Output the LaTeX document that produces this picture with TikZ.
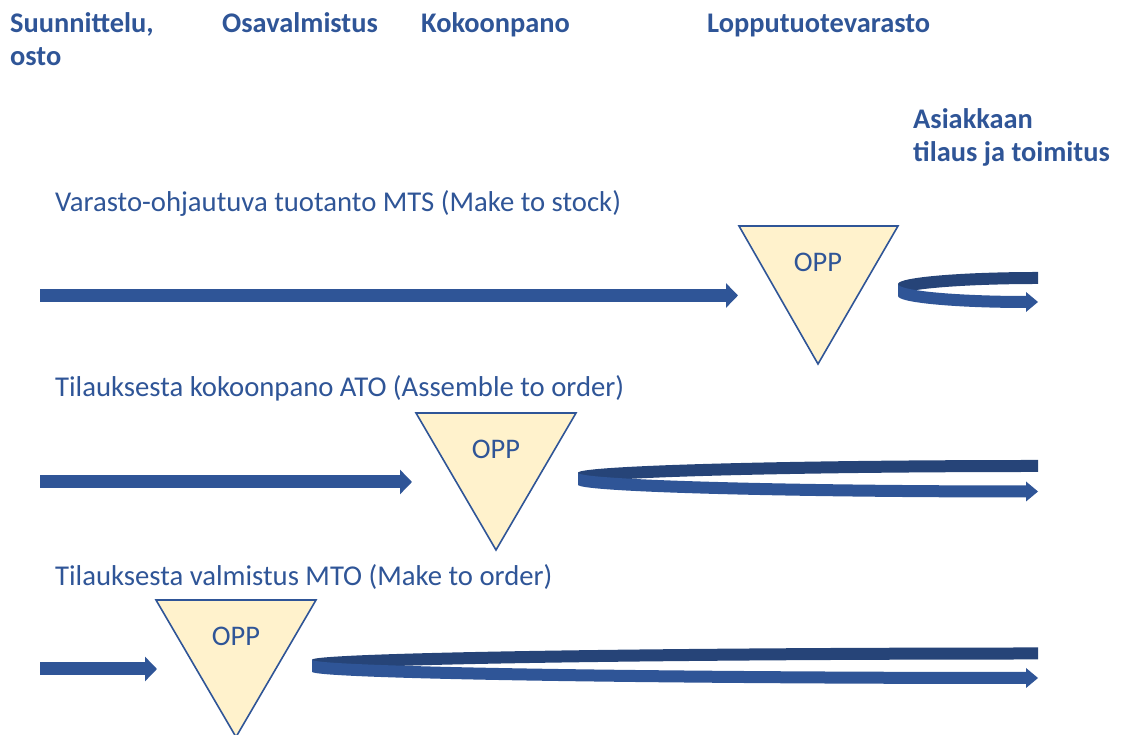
\documentclass[tikz,border=0pt]{standalone}
\usepackage{fontspec}
\setmainfont{Carlito}
\usetikzlibrary{arrows.meta}

\definecolor{textblue}{HTML}{2F5597}
\definecolor{arrowblue}{HTML}{2F5597}
\definecolor{backband}{HTML}{264478}
\definecolor{oppfill}{HTML}{FFF2CC}

% Ribbon that turns back at the left: #1 right x, #2 left x, #3 centre y, #4 half gap
\newcommand\ribbonloop[4]{%
  \pgfmathsetmacro\rA{#1-#2}%
  \pgfmathsetmacro\rAf{#1-#2-12}%
  \pgfmathsetmacro\rW{6}%
  % back (upper) half of the loop
  \fill[backband] (#1,#3+#4+\rW) arc[start angle=90,end angle=180,x radius=\rA,y radius=#4]
    -- ++(0,-2*\rW) arc[start angle=180,end angle=90,x radius=\rA,y radius=#4] -- cycle;
  % front (lower) half with its arrow head
  \fill[arrowblue] (#2,#3+\rW) arc[start angle=180,end angle=270,x radius=\rAf,y radius=#4]
    -- (#1-12,#3-#4+10) -- (#1,#3-#4) -- (#1-12,#3-#4-10) -- (#1-12,#3-#4-\rW)
    arc[start angle=270,end angle=180,x radius=\rAf,y radius=#4] -- cycle;
}

\tikzset{
  heading/.style={font=\fontsize{28.4}{33}\selectfont\bfseries, text=textblue,
    anchor=base west, inner sep=0pt, align=left},
  rowlabel/.style={font=\fontsize{28.7}{33}\selectfont, text=textblue,
    anchor=base west, inner sep=0pt},
  flowarrow/.style={draw=arrowblue, line width=13pt,
    -{Triangle[length=12pt,width=24pt]}},
  opptri/.style={fill=oppfill, draw=arrowblue, line width=1.6pt, line join=miter},
  opplabel/.style={font=\fontsize{28.4}{33}\selectfont, text=textblue, inner sep=0pt},
}

\begin{document}
\begin{tikzpicture}[x=1pt,y=1pt]
\useasboundingbox (0,0) rectangle (1125,735);

% column headings (two-line ones are placed by their last line)
\node[heading] (hplan) at (10,669) {Suunnittelu,\\osto};
\node[heading] (hpart) at (222,702) {Osavalmistus};
\node[heading] (hasm) at (421,702) {Kokoonpano};
\node[heading] (hstock) at (707,702) {Lopputuotevarasto};
\node[heading] (hcust) at (913,573) {Asiakkaan\\tilaus ja toimitus};

% row titles
\node[rowlabel] (lmts) at (55,523) {Varasto-ohjautuva tuotanto MTS (Make to stock)};
\node[rowlabel] (lato) at (55,338) {Tilauksesta kokoonpano ATO (Assemble to order)};
\node[rowlabel] (lmto) at (55,149) {Tilauksesta valmistus MTO (Make to order)};

% order penetration points
\draw[opptri] (739,509) -- (898,509) -- (818,371) -- cycle;
\node[opplabel] (opp1) at (818,473) {OPP};
\draw[opptri] (416,322) -- (576,322) -- (496,185) -- cycle;
\node[opplabel] (opp2) at (496,286) {OPP};
\draw[opptri] (156,135) -- (316,135) -- (236,-2) -- cycle;
\node[opplabel] (opp3) at (236,99) {OPP};

% flow up to the OPP
\coordinate (s1) at (40,439.5);
\coordinate (e1) at (738,439.5);
\coordinate (s2) at (40,253);
\coordinate (e2) at (412,253);
\coordinate (s3) at (40,66);
\coordinate (e3) at (157,66);
\draw[flowarrow] (s1) -- (e1);
\draw[flowarrow] (s2) -- (e2);
\draw[flowarrow] (s3) -- (e3);

% order-driven loops from the customer order back to the OPP
\ribbonloop{1038}{898}{445}{12}
\ribbonloop{1038}{578}{256.25}{12.75}
\ribbonloop{1038}{312}{69.25}{12.25}
\end{tikzpicture}
\end{document}
